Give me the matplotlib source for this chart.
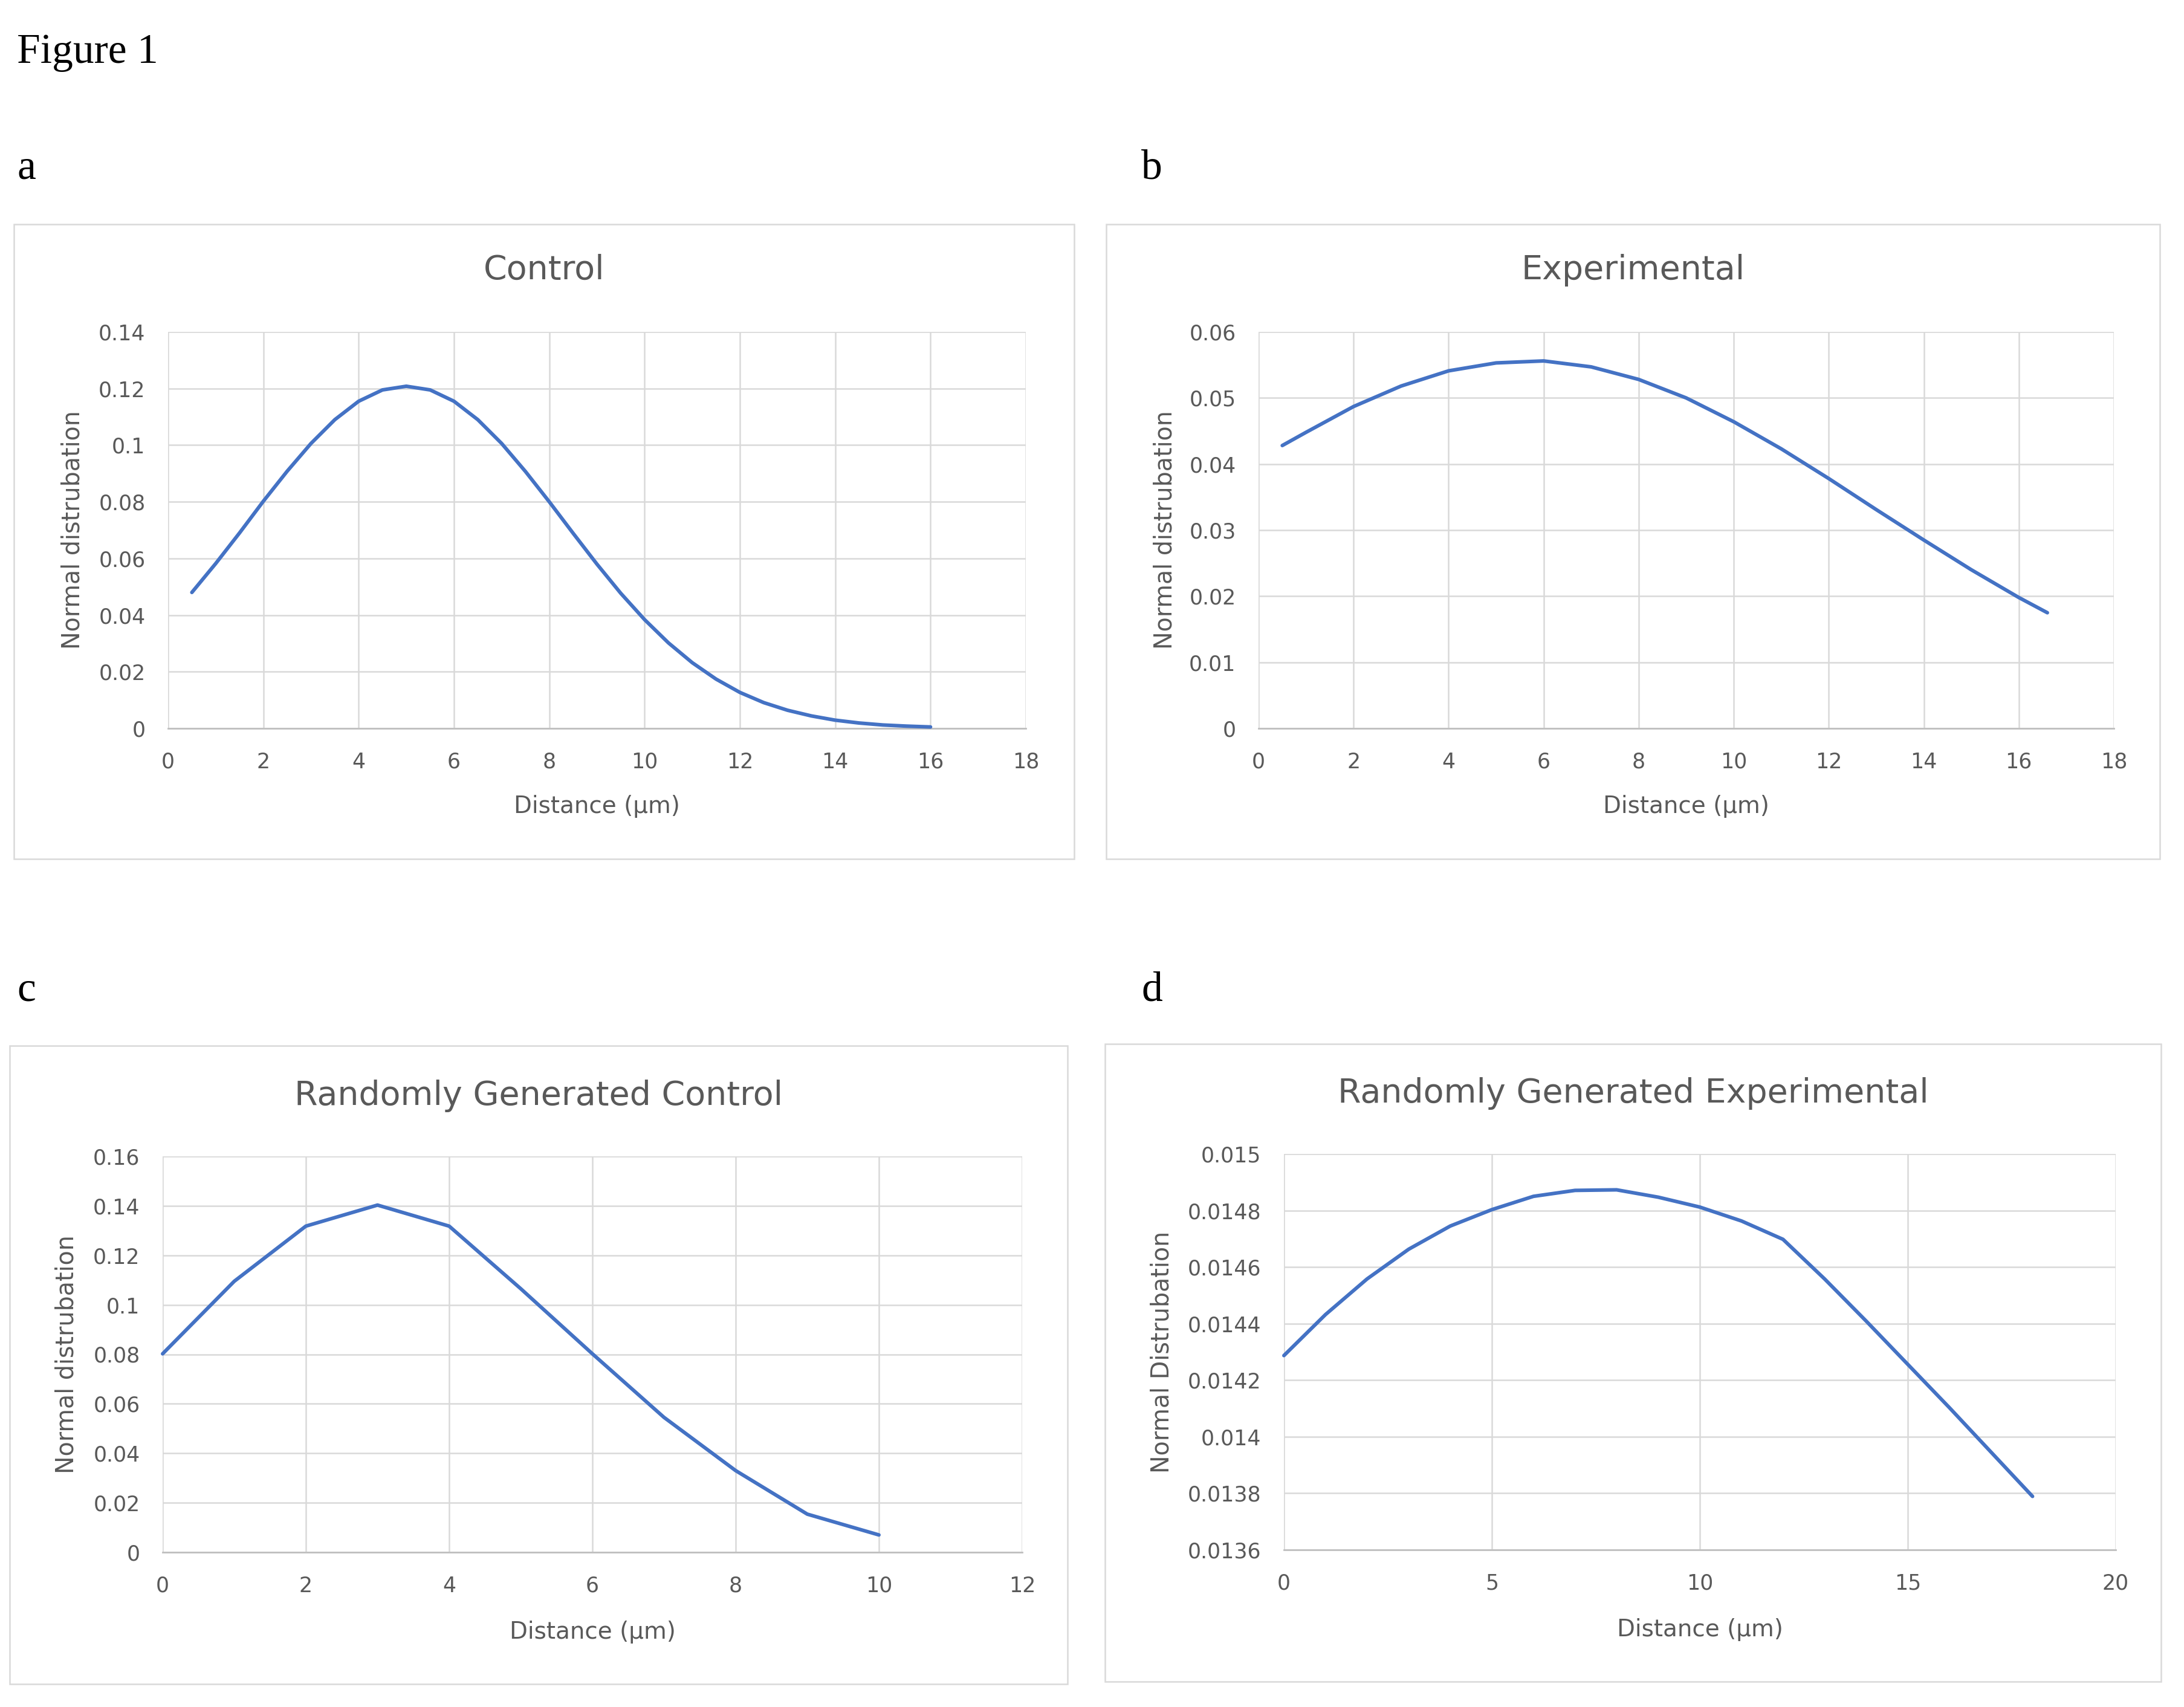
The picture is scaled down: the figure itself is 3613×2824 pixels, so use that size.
import matplotlib
matplotlib.use('Agg')
import matplotlib.pyplot as plt
from matplotlib.patches import Rectangle

plt.rcParams['font.family'] = ['DejaVu Sans']

# ---------------- data ----------------
control_x = [0.5, 1, 1.5, 2, 2.5, 3, 3.5, 4, 4.5, 5, 5.5, 6, 6.5, 7, 7.5, 8,
             8.5, 9, 9.5, 10, 10.5, 11, 11.5, 12, 12.5, 13, 13.5, 14, 14.5,
             15, 15.5, 16]
control_y = [0.0480, 0.0582, 0.0690, 0.0802, 0.0908, 0.1006, 0.1090, 0.1155,
             0.1195, 0.1208, 0.1195, 0.1155, 0.1090, 0.1006, 0.0907, 0.0800,
             0.0689, 0.0580, 0.0477, 0.0384, 0.0302, 0.0232, 0.0174, 0.0127,
             0.0091, 0.0064, 0.0044, 0.0029, 0.0019, 0.0012, 0.0008, 0.0005]

exp_x = [0.5, 1, 2, 3, 4, 5, 6, 7, 8, 9, 10, 11, 12, 13, 14, 15, 16, 16.6]
exp_y = [0.0428, 0.0448, 0.0487, 0.0518, 0.0541, 0.0553, 0.0556, 0.0547,
         0.0528, 0.0500, 0.0464, 0.0423, 0.0378, 0.0331, 0.0285, 0.0240,
         0.0198, 0.0175]

rand_control_x = [0, 1, 2, 3, 4, 5, 6, 7, 8, 9, 10]
rand_control_y = [0.0802, 0.1095, 0.1318, 0.1403, 0.1318, 0.1065, 0.0802,
                  0.0545, 0.0330, 0.0154, 0.0070]

rand_exp_x = [0, 1, 2, 3, 4, 5, 6, 7, 8, 9, 10, 11, 12, 13, 14, 15, 16, 17, 18]
rand_exp_y = [0.014287, 0.014432, 0.014558, 0.014663, 0.014745, 0.014803,
              0.014850, 0.014871, 0.014873, 0.014847, 0.014812, 0.014763,
              0.014698, 0.014558, 0.014409, 0.014256, 0.014103, 0.013946,
              0.013789]

titles = ["Control", "Experimental", "Randomly Generated Control",
          "Randomly Generated Experimental"]
ylabels = ["Normal distrubation", "Normal distrubation", "Normal distrubation",
           "Normal Distrubation"]
xlabel = "Distance (\u00b5m)"
panel_letters = ["a", "b", "c", "d"]

a_xticks = [0, 2, 4, 6, 8, 10, 12, 14, 16, 18]
a_yticks = [0, 0.02, 0.04, 0.06, 0.08, 0.10, 0.12, 0.14]
a_ylabels = ["0", "0.02", "0.04", "0.06", "0.08", "0.1", "0.12", "0.14"]
b_xticks = [0, 2, 4, 6, 8, 10, 12, 14, 16, 18]
b_yticks = [0, 0.01, 0.02, 0.03, 0.04, 0.05, 0.06]
b_ylabels = ["0", "0.01", "0.02", "0.03", "0.04", "0.05", "0.06"]
c_xticks = [0, 2, 4, 6, 8, 10, 12]
c_yticks = [0, 0.02, 0.04, 0.06, 0.08, 0.10, 0.12, 0.14, 0.16]
c_ylabels = ["0", "0.02", "0.04", "0.06", "0.08", "0.1", "0.12", "0.14", "0.16"]
d_xticks = [0, 5, 10, 15, 20]
d_yticks = [0.0136, 0.0138, 0.0140, 0.0142, 0.0144, 0.0146, 0.0148, 0.0150]
d_ylabels = ["0.0136", "0.0138", "0.014", "0.0142", "0.0144", "0.0146",
             "0.0148", "0.015"]

# ---------------- layout ----------------
W, H = 3613, 2824
fig = plt.figure(figsize=(W / 100, H / 100), dpi=100)
fig.patch.set_facecolor('white')

def fx(p):
    return p / W

def fy(p):
    return 1 - p / H

LINE = '#4472C4'
GRID = '#D9D9D9'
TXT = '#595959'

# axes boxes in pixels: left, top, right, bottom
ax_px = [(278, 549, 1697, 1205),
         (2082, 549, 3497, 1205),
         (269, 1913, 1691, 2568),
         (2124, 1909, 3500, 2564)]
# chart-area frames
frame_px = [(23, 371, 1777, 1421),
            (1830, 371, 3573, 1421),
            (16, 1730, 1766, 2786),
            (1828, 1727, 3575, 2782)]
title_y = [447, 447, 1813, 1809]
ylabel_x = [120, 1927, 111, 1922]
xlabel_y = [1334, 1334, 2700, 2696]
letter_pos = [(28, 296), (1888, 296), (28, 1655), (1888, 1655)]

series = [(control_x, control_y), (exp_x, exp_y),
          (rand_control_x, rand_control_y), (rand_exp_x, rand_exp_y)]
xt = [a_xticks, b_xticks, c_xticks, d_xticks]
yt = [a_yticks, b_yticks, c_yticks, d_yticks]
ytl = [a_ylabels, b_ylabels, c_ylabels, d_ylabels]

fig.text(fx(28), fy(104), "Figure 1", family=['Liberation Serif', 'DejaVu Serif'],
         fontsize=50, color='black', ha='left', va='baseline')

for i in range(4):
    l, t, r, b = ax_px[i]
    ax = fig.add_axes([fx(l), fy(b), (r - l) / W, (b - t) / H])
    x, y = series[i]
    ax.plot(x, y, color=LINE, lw=4.3, solid_capstyle='round',
            solid_joinstyle='round', zorder=3, clip_on=False)
    ax.set_xlim(xt[i][0], xt[i][-1])
    ax.set_ylim(yt[i][0], yt[i][-1])
    ax.set_xticks(xt[i])
    ax.set_xticklabels([str(v) for v in xt[i]])
    ax.set_yticks(yt[i])
    ax.set_yticklabels(ytl[i])
    ax.grid(True, color=GRID, lw=1.8, zorder=0)
    ax.set_axisbelow(True)
    for s in ['top', 'right', 'left']:
        ax.spines[s].set_visible(False)
    ax.spines['bottom'].set_color('#BFBFBF')
    ax.spines['bottom'].set_linewidth(2.0)
    ax.tick_params(length=0, labelsize=25, labelcolor=TXT)
    ax.tick_params(axis='x', pad=28)
    ax.tick_params(axis='y', pad=27)

    fl, ft, fr, fb = frame_px[i]
    fig.patches.append(Rectangle((fx(fl), fy(fb)), (fr - fl) / W, (fb - ft) / H,
                                 transform=fig.transFigure, fill=False,
                                 edgecolor=GRID, lw=1.8))
    fig.text(fx((fl + fr) / 2), fy(title_y[i]), titles[i], fontsize=40, color=TXT,
             ha='center', va='center')
    fig.text(fx(ylabel_x[i]), fy((t + b) / 2), ylabels[i], fontsize=28.5, color=TXT,
             rotation=90, ha='center', va='center')
    fig.text(fx((l + r) / 2), fy(xlabel_y[i]), xlabel, fontsize=28, color=TXT,
             ha='center', va='center')
    lx, ly = letter_pos[i]
    fig.text(fx(lx), fy(ly), panel_letters[i], family=['Liberation Serif', 'DejaVu Serif'],
             fontsize=50, color='black', ha='left', va='baseline')

fig.savefig('out.png', dpi=100, facecolor='white')
